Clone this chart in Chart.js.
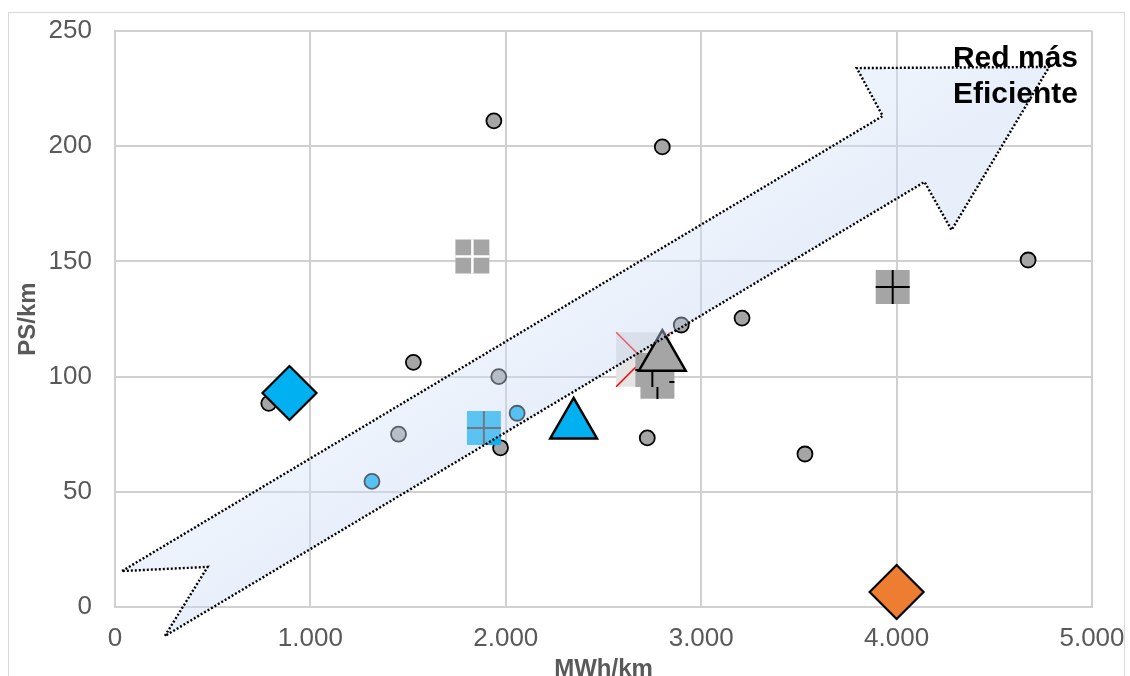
<!DOCTYPE html>
<html>
<head>
<meta charset="utf-8">
<script src="https://cdn.jsdelivr.net/npm/chart.js@4.4.1/dist/chart.umd.min.js"></script>
<style>
  body { margin: 0; background: #fff; }
  #wrap { width: 1130px; height: 676px; }
</style>
</head>
<body>
<div id="wrap"><canvas id="chart" width="1130" height="676"></canvas></div>
<script>
// axis ticks
var xTickValues = [0, 1000, 2000, 3000, 4000, 5000];
var xTickLabels = ['0', '1.000', '2.000', '3.000', '4.000', '5.000'];
var yTickValues = [0, 50, 100, 150, 200, 250];

// small grey circles (MWh/km, PS/km)
var greyCircleX = [787, 1451, 1527, 1939, 1964, 1973, 2724, 2801, 2898, 3209, 3531, 4673];
var greyCircleY = [88.4, 75.0, 106.2, 211, 100, 69.1, 73.4, 199.7, 122.4, 125.4, 66.4, 150.6];

// small blue circles
var blueCircleX = [1315, 2058];
var blueCircleY = [54.5, 84.1];

// big markers
var blueDiamondX = [893], blueDiamondY = [92.9];
var orangeDiamondX = [4000], orangeDiamondY = [6.5];
var blueTriangleX = [2347], blueTriangleY = [79.0];
var greyTriangleX = [2801], greyTriangleY = [108.4];
var blueSquareX = [1888], blueSquareY = [77.7];
var whiteCrossSquareX = [1829], whiteCrossSquareY = [152.1];
var blackCrossSquareX = [3980, 2776, 2750], blackCrossSquareY = [138.9, 97.7, 102.9];
var redXSquareX = [2704], redXSquareY = [107.4];

// "Red más Eficiente" arrow outline, in axis units
var arrowX = [36, 3929, 3796, 4781, 4281, 4143, 255, 474];
var arrowY = [15.6, 213.1, 233.9, 234.4, 163.6, 184.5, -12.6, 17.4];
var arrowText = ['Red más', 'Eficiente'];

function pts(xs, ys) {
  return xs.map(function (x, i) { return { x: x, y: ys[i] }; });
}

var FONT = 'Liberation Sans, Arial, sans-serif';
var GREY = '#a5a5a5';
var BLUE = '#00b0f0';

function marker(label, data, style, radius, fill, border, bw, order) {
  return {
    label: label, data: data, pointStyle: style, pointRadius: radius,
    backgroundColor: fill, borderColor: border, borderWidth: bw,
    order: order, clip: false
  };
}

function noPad(s) {
  s.paddingLeft = 0; s.paddingRight = 0; s.paddingTop = 0; s.paddingBottom = 0;
}

var frame = {
  id: 'frame',
  beforeDraw: function (chart) {
    var c = chart.ctx;
    c.save();
    c.fillStyle = '#fff';
    c.fillRect(0, 0, chart.width, chart.height);
    c.strokeStyle = '#d9d9d9';
    c.lineWidth = 1;
    c.strokeRect(8.5, 12.5, 1116, 700);
    c.restore();
  }
};

var arrow = {
  id: 'arrow',
  afterDatasetsDraw: function (chart) {
    var c = chart.ctx, sx = chart.scales.x, sy = chart.scales.y;
    var p = arrowX.map(function (x, i) {
      return [sx.getPixelForValue(x), sy.getPixelForValue(arrowY[i])];
    });
    c.save();
    c.beginPath();
    c.moveTo(p[0][0], p[0][1]);
    for (var i = 1; i < p.length; i++) c.lineTo(p[i][0], p[i][1]);
    c.closePath();
    var g = c.createLinearGradient(
      (p[0][0] + p[1][0]) / 2, (p[0][1] + p[1][1]) / 2,
      (p[6][0] + p[5][0]) / 2, (p[6][1] + p[5][1]) / 2);
    g.addColorStop(0, 'rgba(212,226,247,0.42)');
    g.addColorStop(1, 'rgba(198,216,244,0.42)');
    c.fillStyle = g;
    c.fill();
    c.setLineDash([2, 2]);
    c.lineWidth = 2.4;
    c.strokeStyle = '#000';
    c.stroke();
    c.setLineDash([]);

    c.fillStyle = '#000';
    c.font = 'bold 30px ' + FONT;
    c.textAlign = 'right';
    c.textBaseline = 'alphabetic';
    c.fillText(arrowText[0], 1078, 67);
    c.fillText(arrowText[1], 1078, 103);
    c.restore();
  }
};

new Chart(document.getElementById('chart'), {
  type: 'scatter',
  data: {
    datasets: [
      marker('redXSquare', pts(redXSquareX, redXSquareY), 'rect', 38.5, '#e4e4e4', '#e4e4e4', 0, 30),
      marker('redX', pts(redXSquareX, redXSquareY), 'crossRot', 38.5, 'rgba(0,0,0,0)', '#ff0000', 1.5, 29),
      marker('sqB', pts(blackCrossSquareX.slice(1, 2), blackCrossSquareY.slice(1, 2)), 'rect', 24, GREY, GREY, 0, 28),
      marker('crossB', pts(blackCrossSquareX.slice(1, 2), blackCrossSquareY.slice(1, 2)), 'cross', 17, 'rgba(0,0,0,0)', '#000', 2, 27),
      marker('sqA', pts(blackCrossSquareX.slice(2), blackCrossSquareY.slice(2)), 'rect', 24, GREY, GREY, 0, 26),
      marker('crossA', pts(blackCrossSquareX.slice(2), blackCrossSquareY.slice(2)), 'cross', 17, 'rgba(0,0,0,0)', '#000', 2, 25),
      marker('greyTriangle', pts(greyTriangleX, greyTriangleY), 'triangle', 27, GREY, '#000', 2.5, 24),
      marker('sq4000', pts(blackCrossSquareX.slice(0, 1), blackCrossSquareY.slice(0, 1)), 'rect', 24, GREY, GREY, 0, 23),
      marker('cross4000', pts(blackCrossSquareX.slice(0, 1), blackCrossSquareY.slice(0, 1)), 'cross', 17, 'rgba(0,0,0,0)', '#000', 2, 22),
      marker('whiteSq', pts(whiteCrossSquareX, whiteCrossSquareY), 'rect', 24, GREY, GREY, 0, 21),
      marker('whiteCross', pts(whiteCrossSquareX, whiteCrossSquareY), 'cross', 17, 'rgba(0,0,0,0)', '#fff', 2.5, 20),
      marker('greyCircles', pts(greyCircleX, greyCircleY), 'circle', 7.5, GREY, '#000', 1.8, 12),
      marker('blueCircles', pts(blueCircleX, blueCircleY), 'circle', 7.5, BLUE, '#000', 1.8, 12),
      marker('blueSquare', pts(blueSquareX, blueSquareY), 'rect', 24, '#0ab2f0', '#0ab2f0', 0, 9),
      marker('blueCross', pts(blueSquareX, blueSquareY), 'cross', 17, 'rgba(0,0,0,0)', '#303030', 2, 8),
      marker('blueTriangle', pts(blueTriangleX, blueTriangleY), 'triangle', 27, BLUE, '#000', 2.5, 6),
      marker('blueDiamond', pts(blueDiamondX, blueDiamondY), 'rectRot', 27, BLUE, '#000', 2.2, 5),
      marker('orangeDiamond', pts(orangeDiamondX, orangeDiamondY), 'rectRot', 27, '#ed7d31', '#000', 2.2, 4)
    ]
  },
  options: {
    responsive: false,
    animation: false,
    events: [],
    layout: { autoPadding: false, padding: { left: 0, top: 31, right: 38, bottom: 0 } },
    plugins: { legend: { display: false }, tooltip: { enabled: false } },
    scales: {
      x: {
        type: 'linear', min: 0, max: 5000,
        afterFit: function (s) { s.height = 69; noPad(s); },
        afterBuildTicks: function (s) { s.ticks = xTickValues.map(function (v) { return { value: v }; }); },
        grid: { color: '#d0d0d0', lineWidth: 2, drawTicks: false },
        border: { color: '#d0d0d0', width: 2 },
        ticks: {
          padding: 16, color: '#595959', font: { family: FONT, size: 26 },
          maxRotation: 0, autoSkip: false,
          callback: function (v) { return xTickLabels[xTickValues.indexOf(v)]; }
        },
        title: {
          display: true, text: 'MWh/km', color: '#595959',
          font: { family: FONT, size: 24, weight: 'bold' },
          padding: { top: 0, bottom: -8 }
        }
      },
      y: {
        type: 'linear', min: 0, max: 250,
        afterFit: function (s) { s.width = 115; noPad(s); },
        afterBuildTicks: function (s) { s.ticks = yTickValues.map(function (v) { return { value: v }; }); },
        grid: { color: '#d0d0d0', lineWidth: 2, drawTicks: false },
        border: { color: '#d0d0d0', width: 2 },
        ticks: { padding: 23, color: '#595959', font: { family: FONT, size: 26 } },
        title: {
          display: true, text: 'PS/km', color: '#595959',
          font: { family: FONT, size: 24, weight: 'bold' },
          padding: { top: 14, bottom: 0 }
        }
      }
    }
  },
  plugins: [frame, arrow]
});
</script>
</body>
</html>
